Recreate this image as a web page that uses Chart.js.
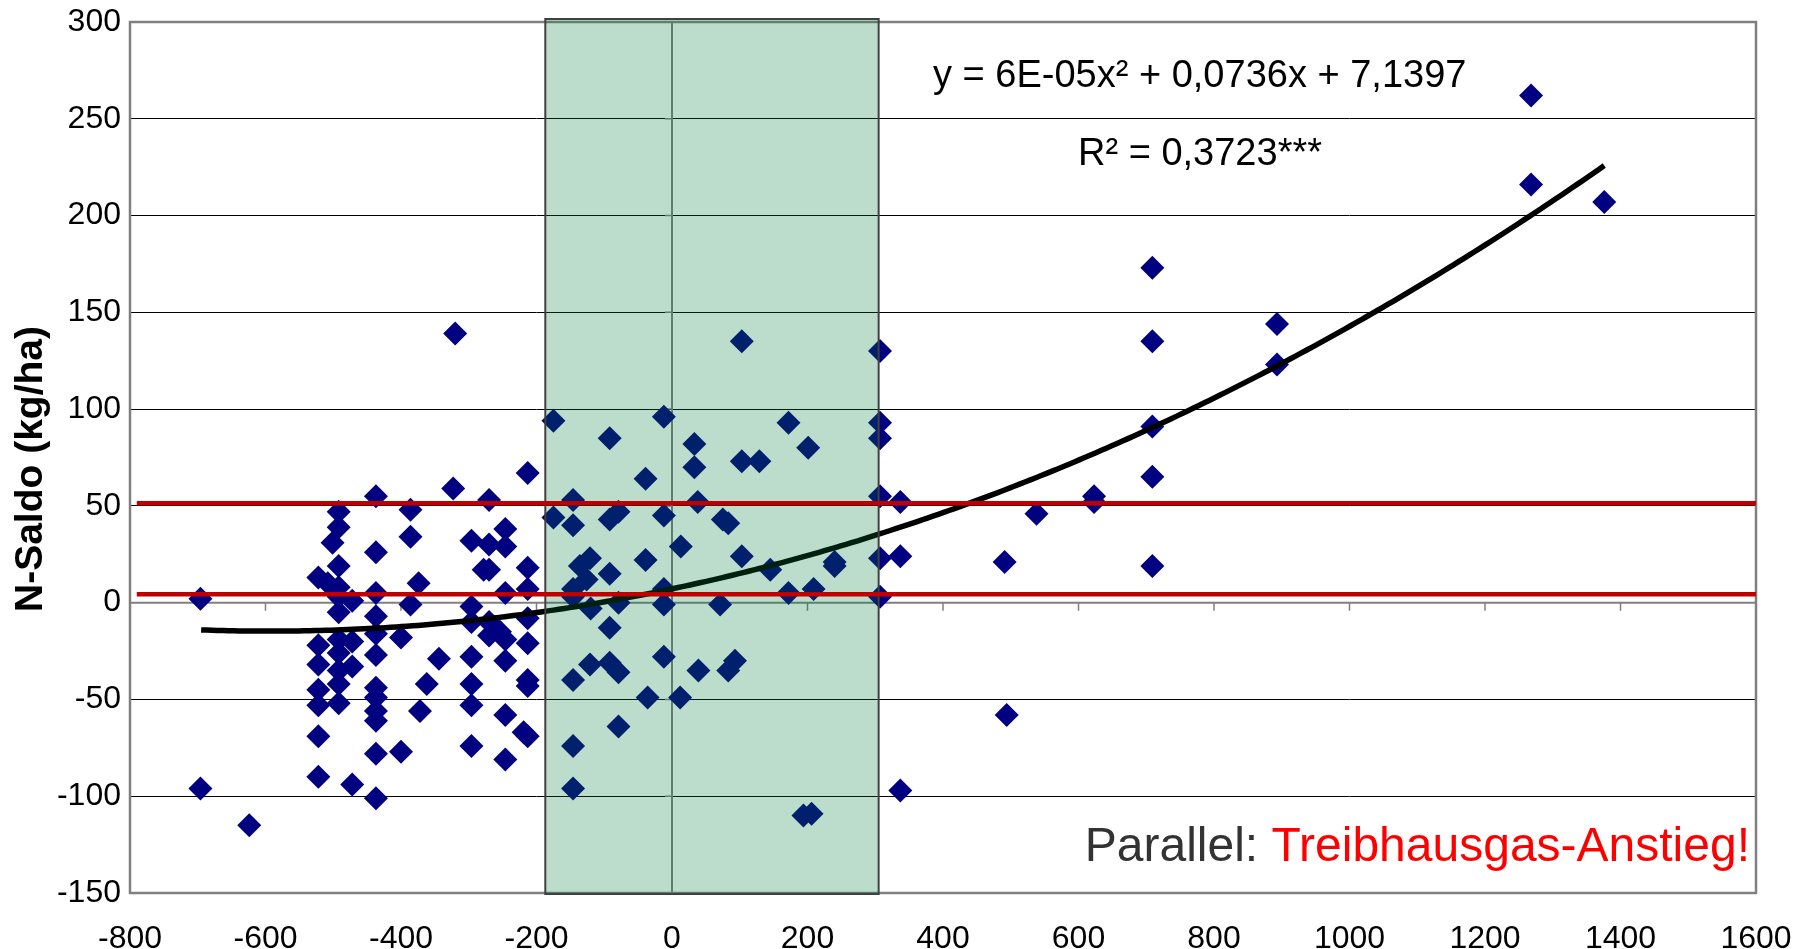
<!DOCTYPE html>
<html lang="de">
<head>
<meta charset="utf-8">
<title>N-Saldo</title>
<script src="https://cdn.jsdelivr.net/npm/chart.js@4.4.1/dist/chart.umd.min.js"></script>
<style>
  html, body { margin: 0; padding: 0; background: #fff; }
  #box { position: relative; width: 1810px; height: 949px; }
</style>
</head>
<body>
<div id="box"><canvas id="grafico"></canvas></div>
<script>
// Betriebe: x-Wert und N-Saldo (kg/ha), spaltenweise
const punkteX = [
  -696, -696, -624,
  -522, -522, -522, -522, -522, -522, -522, -508, -501,
  -492, -492, -492, -492, -492, -492, -492, -492, -492, -492, -492,
  -472, -472, -472, -472,
  -437, -437, -437, -437, -437, -437, -437, -437, -437, -437, -437, -437,
  -386, -386, -386, -374, -400, -400, -372, -362, -344, -323, -320,
  -296, -296, -296, -296, -296, -296, -296, -278,
  -270, -270, -270, -270, -270, -254,
  -246, -246, -246, -246, -246, -246, -246,
  -213, -213, -213, -213, -213, -213, -213, -213, -219,
  -175, -175, -146, -146, -146, -146, -146, -146, -146,
  -136, -126, -121, -121, -120,
  -92, -92, -92, -92, -92, -79, -79, -79, -79,
  -39, -39, -36, -12, -12, -12, -12, -12,
  13, 12, 33, 33, 38, 39,
  75, 83, 83, 71, 93,
  103, 103, 103, 129, 145, 172, 172, 201, 209, 194, 206, 240, 240,
  307, 307, 307, 307, 307, 307, 337, 337, 337,
  491, 494, 538, 623, 623, 709, 709, 709, 709, 709,
  893, 893, 1268, 1268, 1376
];
const punkteY = [
  2, -96, -115,
  13, -22, -32, -45, -53, -69, -90, 10, 31,
  47, 39, 19, 8, 3, -5, -19, -26, -35, -42, -52,
  1, -20, -33, -94,
  55, 26, 5, -7, -16, -27, -44, -49, -56, -61, -78, -101,
  48, 34, -1, 10, -18, -77, -56, -42, -29, 59, 139,
  32, -2, -10, -28, -42, -53, -74, 17,
  53, 30, 17, -10, -17, -15,
  38, 29, 5, -19, -30, -58, -81,
  67, 18, 7, -8, -21, -40, -43, -69, -67,
  94, 44, 53, 40, 7, 3, -40, -74, -96,
  19, 12, 23, -32, -3,
  85, 43, 15, -13, -31, 47, 0, -36, -64,
  64, 22, -49, 96, 45, 7, -1, -28,
  29, -49, 82, 70, 52, -35,
  43, 41, -35, -1, -30,
  135, 73, 24, 73, 17, 93, 5, 80, 7, -110, -109, 21, 19,
  130, 93, 85, 55, 23, 3, 24, 52, -97,
  21, -58, 46, 55, 52, 173, 135, 91, 65, 19,
  144, 123, 262, 216, 207
];

// Trendlinie: y = a*x² + b*x + c (a in der Beschriftung auf 6E-05 gerundet)
const trendKoeff = [0.000062, 0.0736, 7.1397];
const trendBereich = [-695, 1376];

// rote Grenzlinien (kg/ha)
const grenzen = [51.3, 4.4];
const grenzStart = -790;

// grün hinterlegter Bereich
const bereichX = [-187, 305];

const yTicks = [-150, -100, -50, 0, 50, 100, 150, 200, 250, 300];
const xTicks = [-800, -600, -400, -200, 0, 200, 400, 600, 800, 1000, 1200, 1400, 1600];

const schrift = '"Liberation Sans", Arial, sans-serif';

const punkte = punkteX.map((x, i) => ({ x: x, y: punkteY[i] }));

const polynom = x => trendKoeff[0] * x * x + trendKoeff[1] * x + trendKoeff[2];
const trend = [];
for (let x = trendBereich[0]; x < trendBereich[1]; x += 8) {
  trend.push({ x: x, y: polynom(x) });
}
trend.push({ x: trendBereich[1], y: polynom(trendBereich[1]) });

const grenzDatasets = grenzen.map(g => ({
  data: [{ x: grenzStart, y: g }, { x: xTicks[xTicks.length - 1], y: g }],
  showLine: true,
  borderColor: '#c00000',
  borderWidth: 4.5,
  pointRadius: 0,
  order: 1
}));

const zeichnung = {
  id: 'zeichnung',
  beforeDatasetsDraw(chart) {
    const { ctx, chartArea: a, scales: { x, y } } = chart;
    ctx.save();
    // Rahmen der Zeichenfläche
    ctx.strokeStyle = '#808080';
    ctx.lineWidth = 2.5;
    ctx.strokeRect(a.left, a.top, a.right - a.left, a.bottom - a.top);

    // x-Achse bei y = 0
    const y0 = y.getPixelForValue(0);
    ctx.lineWidth = 2;
    ctx.beginPath();
    ctx.moveTo(a.left, y0);
    ctx.lineTo(a.right, y0);
    ctx.stroke();
    ctx.lineWidth = 1.5;
    ctx.beginPath();
    xTicks.forEach(v => {
      const px = x.getPixelForValue(v);
      ctx.moveTo(px, y0);
      ctx.lineTo(px, y0 + 8);
    });
    ctx.stroke();

    // y-Achse bei x = 0
    const x0 = x.getPixelForValue(0);
    ctx.lineWidth = 2;
    ctx.beginPath();
    ctx.moveTo(x0, a.top);
    ctx.lineTo(x0, a.bottom);
    ctx.stroke();
    ctx.lineWidth = 1.5;
    ctx.beginPath();
    yTicks.forEach(v => {
      const py = y.getPixelForValue(v);
      ctx.moveTo(x0 - 7, py);
      ctx.lineTo(x0, py);
    });
    ctx.stroke();
    ctx.restore();
  },
  afterDatasetDraw(chart, args) {
    if (args.index !== 1) return;
    // grüner Kasten über Punkten und Trendlinie
    const { ctx, chartArea: a, scales: { x } } = chart;
    const l = x.getPixelForValue(bereichX[0]);
    const r = x.getPixelForValue(bereichX[1]);
    ctx.save();
    ctx.fillStyle = 'rgba(0, 125, 59, 0.26)';
    ctx.fillRect(l, a.top - 3, r - l, a.bottom - a.top + 4);
    ctx.strokeStyle = '#404040';
    ctx.lineWidth = 2;
    ctx.strokeRect(l, a.top - 3, r - l, a.bottom - a.top + 4);
    ctx.restore();
  },
  afterDraw(chart) {
    const { ctx } = chart;
    ctx.save();
    ctx.fillStyle = '#000';
    ctx.textBaseline = 'alphabetic';
    ctx.textAlign = 'left';
    ctx.font = '38px ' + schrift;
    ctx.fillText('y = 6E-05x² + 0,0736x + 7,1397', 933, 87);
    ctx.fillText('R² = 0,3723***', 1078, 165);

    ctx.font = '48px ' + schrift;
    const teil1 = 'Parallel: ';
    const teil2 = 'Treibhausgas-Anstieg!';
    const w2 = ctx.measureText(teil2).width;
    const w1 = ctx.measureText(teil1).width;
    ctx.fillStyle = '#333333';
    ctx.fillText(teil1, 1750 - w2 - w1, 861);
    ctx.fillStyle = '#ff0000';
    ctx.fillText(teil2, 1750 - w2, 861);

    // Achsentitel
    ctx.fillStyle = '#000';
    ctx.font = 'bold 39px ' + schrift;
    ctx.translate(42, 469);
    ctx.rotate(-Math.PI / 2);
    ctx.textAlign = 'center';
    ctx.fillText('N-Saldo (kg/ha)', 0, 0);
    ctx.restore();
  }
};

new Chart(document.getElementById('grafico'), {
  type: 'scatter',
  data: {
    datasets: [
      {
        data: punkte,
        pointStyle: 'rectRot',
        pointRadius: 12,
        pointBorderWidth: 0,
        backgroundColor: '#000080',
        borderColor: '#000080',
        order: 3
      },
      {
        data: trend,
        showLine: true,
        borderColor: '#000000',
        borderWidth: 5.5,
        pointRadius: 0,
        tension: 0,
        order: 2
      },
      ...grenzDatasets
    ]
  },
  options: {
    responsive: true,
    maintainAspectRatio: false,
    animation: false,
    layout: { padding: { top: 22, right: 54, bottom: 0, left: 0 } },
    plugins: {
      legend: { display: false },
      tooltip: { enabled: false }
    },
    scales: {
      x: {
        type: 'linear',
        min: -800,
        max: 1600,
        afterFit: s => { s.height = 56; s.paddingLeft = 0; s.paddingRight = 0; },
        afterBuildTicks: s => { s.ticks = xTicks.map(v => ({ value: v })); },
        grid: { display: false },
        border: { display: false },
        ticks: {
          padding: 19,
          color: '#000',
          font: { family: schrift, size: 32 },
          callback: v => String(v)
        }
      },
      y: {
        type: 'linear',
        min: -150,
        max: 300,
        afterFit: s => { s.width = 130; s.paddingTop = 0; s.paddingBottom = 0; },
        afterBuildTicks: s => { s.ticks = yTicks.map(v => ({ value: v })); },
        grid: { color: '#000', lineWidth: 1, drawTicks: false },
        border: { display: false },
        ticks: {
          padding: 9,
          color: '#000',
          font: { family: schrift, size: 32 },
          callback: v => String(v)
        }
      }
    }
  },
  plugins: [zeichnung]
});
</script>
</body>
</html>
